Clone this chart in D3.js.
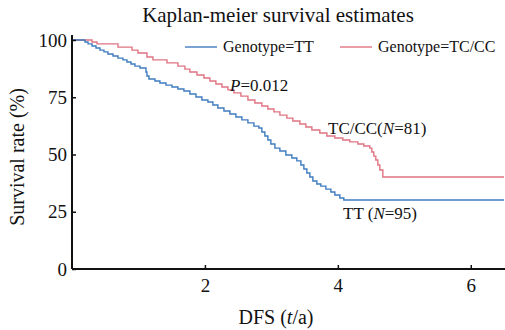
<!DOCTYPE html>
<html><head><meta charset="utf-8"><script src="https://cdn.jsdelivr.net/npm/d3@7"></script></head>
<body style="margin:0">
<script>
// TT group: event times (years) and survival (%) after each step
const ttTimes = [0.195,0.241,0.301,0.361,0.421,0.481,0.541,0.617,0.692,0.767,0.827,0.887,0.947,1.023,
  1.113,1.128,1.158,1.248,1.323,1.414,1.504,1.594,1.684,1.774,1.865,1.955,2.045,2.120,2.195,2.286,
  2.376,2.466,2.556,2.647,2.737,2.812,2.857,2.902,2.947,2.992,3.053,3.128,3.218,3.308,3.383,3.444,
  3.489,3.534,3.579,3.624,3.684,3.744,3.820,3.895,3.955,4.030,4.090];
const ttSurv = [99.1,98.3,97.4,96.5,95.6,94.8,93.9,93.0,92.1,91.3,90.4,89.5,88.6,87.8,
  86.0,84.3,83.0,82.1,81.2,80.3,79.5,78.6,77.7,76.4,75.1,73.8,72.9,71.6,70.3,69.0,
  67.7,66.4,65.1,63.8,62.4,61.6,59.8,58.1,56.3,54.6,52.8,51.5,49.8,48.5,47.2,45.4,
  43.7,41.9,40.2,38.4,37.1,36.2,34.9,33.6,32.3,31.0,30.1];

// TC/CC group
const tcTimes = [0.301,0.376,0.692,0.902,0.992,1.128,1.218,1.429,1.594,1.699,1.774,1.880,1.985,2.075,
  2.165,2.256,2.346,2.436,2.541,2.647,2.752,2.857,2.947,3.038,3.128,3.233,3.323,3.429,3.519,3.609,
  3.729,3.835,3.955,4.075,4.180,4.301,4.391,4.481,4.511,4.541,4.571,4.602,4.632,4.677];
const tcSurv = [99.1,98.3,96.9,95.6,94.3,92.6,91.3,90.0,88.6,87.3,86.0,84.7,83.4,82.1,
  80.8,79.5,78.2,76.9,75.5,73.8,72.5,71.2,69.9,68.6,67.2,65.9,64.6,63.3,62.0,60.7,
  59.4,58.1,57.2,56.3,55.5,54.6,53.7,52.8,51.1,49.3,47.6,45.4,43.2,40.2];

const endTime = 6.5;
const xTicks = [2, 4, 6];
const yTicks = [0, 25, 50, 75, 100];

const seriesNames = ["Genotype=TT", "Genotype=TC/CC"];
const colors = ["#3f7cc0", "#e07482"];

const width = 505, height = 330;
const margin = { left: 72, right: 1, top: 40, bottom: 61 };

const svg = d3.select("body").append("svg")
  .attr("width", width).attr("height", height)
  .style("font-family", "'Liberation Serif'");

const x = d3.scaleLinear().domain([0, endTime]).range([margin.left, width - margin.right]);
const y = d3.scaleLinear().domain([0, 100]).range([height - margin.bottom, margin.top]);

function toSteps(times, surv) {
  const pts = [[0, 100]];
  times.forEach((t, i) => pts.push([t, surv[i]]));
  pts.push([endTime, surv[surv.length - 1]]);
  return pts;
}

const line = d3.line().x(d => x(d[0])).y(d => y(d[1])).curve(d3.curveStepAfter);
const series = [toSteps(ttTimes, ttSurv), toSteps(tcTimes, tcSurv)];

// curves, red first so blue sits on top where they overlap
[1, 0].forEach(i => {
  svg.append("path")
    .datum(series[i])
    .attr("fill", "none")
    .attr("stroke", colors[i])
    .attr("stroke-width", 1.4)
    .attr("d", line);
});

// axes
const xAxis = svg.append("g")
  .attr("transform", `translate(0,${y(0)})`)
  .call(d3.axisBottom(x).tickValues(xTicks).tickFormat(d3.format("d")).tickSize(-4).tickPadding(10));
const yAxis = svg.append("g")
  .attr("transform", `translate(${x(0)},0)`)
  .call(d3.axisLeft(y).tickValues(yTicks).tickSize(-4).tickPadding(5));

[xAxis, yAxis].forEach(g => {
  g.attr("font-family", null).attr("font-size", null);
  g.select(".domain").attr("stroke", "#111").attr("stroke-width", 2);
  g.selectAll(".tick line").attr("stroke", "#111").attr("stroke-width", 1.5);
  g.selectAll(".tick text")
    .style("font-family", "'Liberation Serif'")
    .style("font-size", "19px")
    .attr("fill", "#111");
});
xAxis.select(".domain").attr("d", `M${x(0)},0H${width}`);
yAxis.select(".domain").attr("d", `M0,${y(0)}V${y(100) - 5}`);

function addText(size) {
  return svg.append("text")
    .style("font-family", "'Liberation Serif'")
    .style("font-size", size + "px")
    .attr("fill", "#111");
}

// title
addText(21).attr("x", 278).attr("y", 22)
  .attr("text-anchor", "middle")
  .text("Kaplan-meier survival estimates");

// axis titles
const xt = addText(20).attr("x", 276).attr("y", 324).attr("text-anchor", "middle");
xt.append("tspan").text("DFS (");
xt.append("tspan").style("font-style", "italic").text("t");
xt.append("tspan").text("/a)");

addText(20)
  .attr("transform", "translate(24,157) rotate(-90)")
  .attr("text-anchor", "middle")
  .text("Survival rate (%)");

// legend
const legendX = [185, 340];
seriesNames.forEach((name, i) => {
  svg.append("line")
    .attr("x1", legendX[i]).attr("x2", legendX[i] + 32)
    .attr("y1", 47).attr("y2", 47)
    .attr("stroke", colors[i]).attr("stroke-width", 1.4);
  addText(16).attr("x", legendX[i] + 38).attr("y", 52).text(name);
});

// annotations
const pLabel = addText(17).attr("x", 230).attr("y", 91);
pLabel.append("tspan").style("font-style", "italic").text("P");
pLabel.append("tspan").text("=0.012");

const tcLabel = addText(17).attr("x", 328).attr("y", 134);
tcLabel.append("tspan").text("TC/CC(");
tcLabel.append("tspan").style("font-style", "italic").text("N");
tcLabel.append("tspan").text("=81)");

const ttLabel = addText(17).attr("x", 343).attr("y", 219);
ttLabel.append("tspan").text("TT (");
ttLabel.append("tspan").style("font-style", "italic").text("N");
ttLabel.append("tspan").text("=95)");
</script>
</body></html>
